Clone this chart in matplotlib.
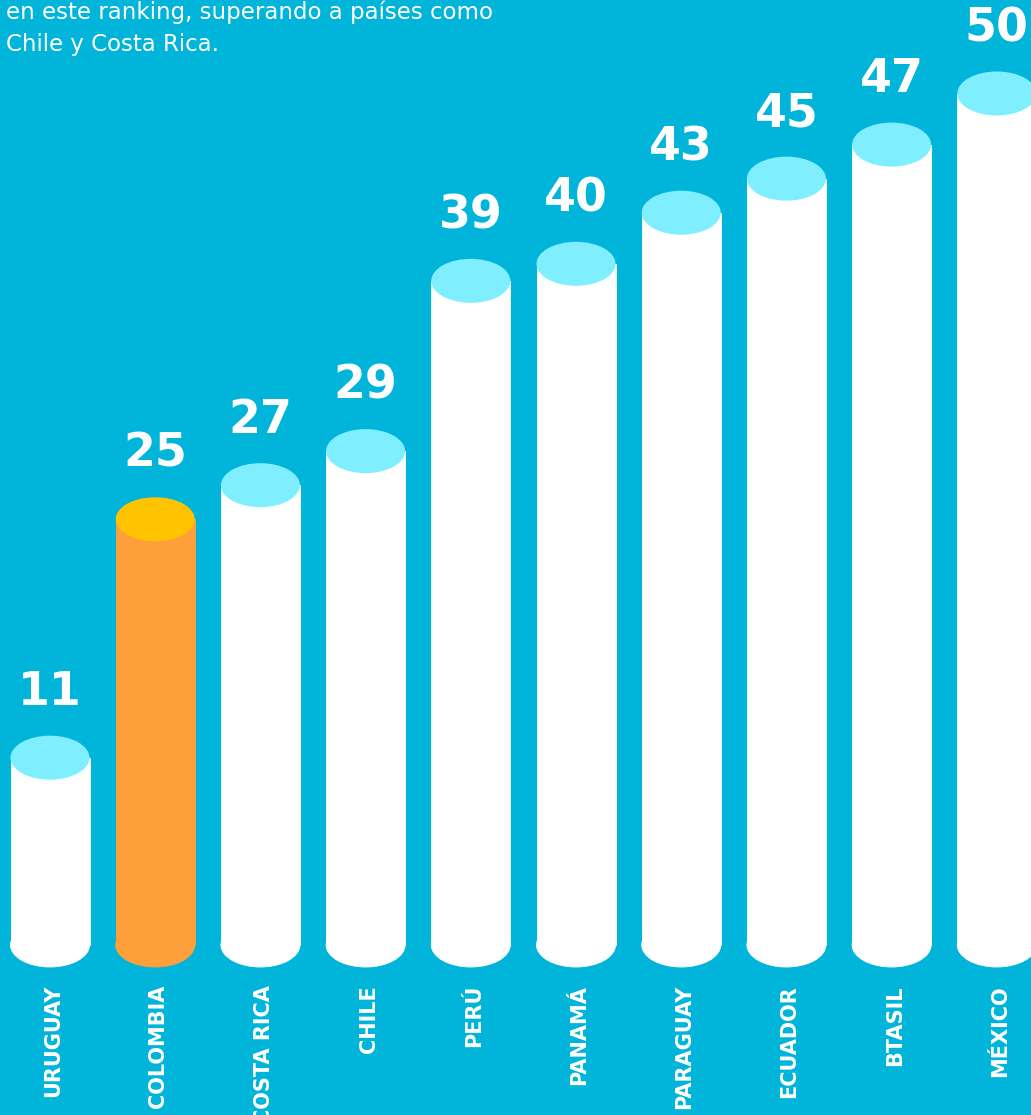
import matplotlib
matplotlib.use('Agg')
import matplotlib.pyplot as plt
from matplotlib.patches import Ellipse, Rectangle

# data
countries = ['URUGUAY', 'COLOMBIA', 'COSTA RICA', 'CHILE', 'PERÚ',
             'PANAMÁ', 'PARAGUAY', 'ECUADOR', 'BTASIL', 'MÉXICO']
values = [11, 25, 27, 29, 39, 40, 43, 45, 47, 50]
highlight = 'COLOMBIA'
intro_lines = ['en este ranking, superando a países como', 'Chile y Costa Rica.']

BG = '#01B4DA'
BODY = '#FFFFFF'
CAP = '#7FEFFF'
HL_BODY = '#FF9F3B'
HL_CAP = '#FFC300'

W, H, DPI = 1031, 1115, 100
fig = plt.figure(figsize=(W / DPI, H / DPI), dpi=DPI)
fig.patch.set_facecolor(BG)
ax = fig.add_axes([0, 0, 1, 1])
ax.set_facecolor(BG)
ax.axis('off')

# pixel scale: 105.2 px between bars, 17.03 px per unit, zero at 170 px from bottom
step_px, unit_px, zero_px, first_px = 105.2, 17.03, 170, 50
ax.set_xlim(-first_px / step_px, (W - first_px) / step_px)
ax.set_ylim(-zero_px / unit_px, (H - zero_px) / unit_px)

bar_w = 79 / step_px
ell_h = 44 / unit_px

for i, (name, v) in enumerate(zip(countries, values)):
    body = HL_BODY if name == highlight else BODY
    cap = HL_CAP if name == highlight else CAP
    # cylinder: bottom ellipse + body, same colour with a thin edge to hide the seam
    ax.add_patch(Ellipse((i, 0), bar_w, ell_h, facecolor=body, edgecolor=body,
                         linewidth=0.6, zorder=2))
    ax.add_patch(Rectangle((i - bar_w / 2, 0), bar_w, v, facecolor=body, edgecolor=body,
                           linewidth=0.6, zorder=2))
    ax.add_patch(Ellipse((i, v), bar_w, ell_h, facecolor=cap, edgecolor='none', zorder=3))
    ax.text(i, v + 65 / unit_px, str(v), ha='center', va='center', color='white',
            fontsize=33, fontweight='bold', family='DejaVu Sans', zorder=4)
    ax.text(i + 0.03, -40 / unit_px, name, ha='center', va='top', rotation=90,
            color='white', fontsize=15, fontweight='bold', family='DejaVu Sans', zorder=4)

fig.text(6 / W, 1 - 12 / H, intro_lines[0], ha='left', va='center', color='white',
         fontsize=16.5, family='DejaVu Sans')
fig.text(6 / W, 1 - 45 / H, intro_lines[1], ha='left', va='center', color='white',
         fontsize=16.5, family='DejaVu Sans')

fig.savefig('out.png', dpi=DPI, facecolor=BG)
